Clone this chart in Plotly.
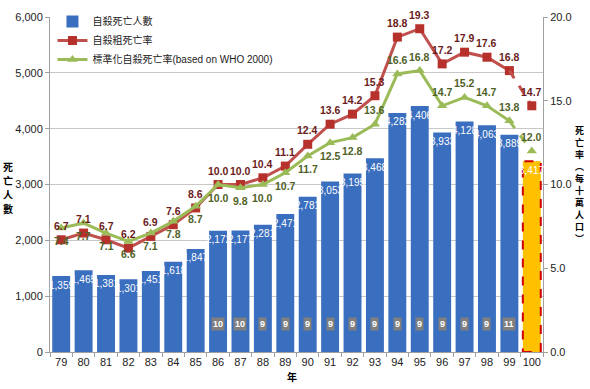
import plotly.graph_objects as go

years = ["79","80","81","82","83","84","85","86","87","88","89","90","91","92","93","94","95","96","97","98","99","100"]
deaths = [1359,1465,1381,1301,1451,1618,1847,2172,2177,2281,2471,2781,3053,3195,3468,4282,4406,3933,4128,4063,3889,3417]
crude = [6.7,7.1,6.7,6.2,6.9,7.6,8.6,10.0,10.0,10.4,11.1,12.4,13.6,14.2,15.3,18.8,19.3,17.2,17.9,17.6,16.8,14.7]
std = [7.4,7.7,7.1,6.6,7.1,7.8,8.7,10.0,9.8,10.0,10.7,11.7,12.5,12.8,13.6,16.6,16.8,14.7,15.2,14.7,13.8,12.0]
rank_years = ["86","87","88","89","90","91","92","93","94","95","96","97","98","99"]
ranks = [10,10,9,9,9,9,9,9,9,9,9,9,9,11]
left_title = "死亡人數"
right_title = "死亡率︵每十萬人口︶"

BLUE = "#3A6EBE"
ORANGE = "#FFC000"
RED = "#C0504D"
REDM = "#B7312C"
GREEN = "#9BBB59"
RED_TXT = "#6B1C1C"
GREEN_TXT = "#4F6228"
FONT = "Liberation Sans, Arial, sans-serif"
CJK = "Noto Sans CJK TC"

n = len(years)
idx = {y: i for i, y in enumerate(years)}
bar_colors = [BLUE] * (n - 1) + [ORANGE]

fig = go.Figure()
fig.add_trace(go.Bar(x=years, y=deaths, name="自殺死亡人數", marker=dict(color=bar_colors, line=dict(width=0)),
                     yaxis="y", legendrank=1))
fig.add_trace(go.Scatter(x=years[:-1], y=crude[:-1], name="自殺粗死亡率", mode="lines+markers",
                         line=dict(color=RED, width=3), marker=dict(symbol="square", size=9, color=REDM),
                         yaxis="y2", legendrank=2))
fig.add_trace(go.Scatter(x=years[-2:], y=crude[-2:], mode="lines", line=dict(color=RED, width=3, dash="dash"),
                         yaxis="y2", showlegend=False))
fig.add_trace(go.Scatter(x=years[-1:], y=crude[-1:], mode="markers", marker=dict(symbol="square", size=9, color=REDM),
                         yaxis="y2", showlegend=False))
fig.add_trace(go.Scatter(x=years[:-1], y=std[:-1], name="標準化自殺死亡率(based on WHO 2000)", mode="lines+markers",
                         line=dict(color=GREEN, width=3), marker=dict(symbol="triangle-up", size=9, color=GREEN),
                         yaxis="y2", legendrank=3))
fig.add_trace(go.Scatter(x=years[-2:], y=std[-2:], mode="lines", line=dict(color=GREEN, width=3, dash="dash"),
                         yaxis="y2", showlegend=False))
fig.add_trace(go.Scatter(x=years[-1:], y=std[-1:], mode="markers", marker=dict(symbol="triangle-up", size=9, color=GREEN),
                         yaxis="y2", showlegend=False))

ann = []
for yr, d in zip(years, deaths):
    ann.append(dict(x=idx[yr], y=d, xref="x", yref="y", text=f"{d:,}", showarrow=False, yshift=-9,
                    font=dict(family=FONT, size=10, color="white")))
for yr, v in zip(years, crude):
    ann.append(dict(x=idx[yr], y=v, xref="x", yref="y2", text=f"{v:.1f}", showarrow=False, yshift=14,
                    font=dict(family=FONT, size=10.5, color=RED_TXT, weight="bold")))
for yr, v in zip(years, std):
    above = int(yr) >= 93
    ann.append(dict(x=idx[yr], y=v, xref="x", yref="y2", text=f"{v:.1f}", showarrow=False,
                    yshift=14 if above else -13,
                    font=dict(family=FONT, size=10.5, color=GREEN_TXT, weight="bold")))
for yr, r in zip(rank_years, ranks):
    ann.append(dict(x=idx[yr], y=0.064, xref="x", yref="paper", text=f"<b>{r}</b>", showarrow=False,
                    bgcolor="#7F7F7F", borderpad=1, font=dict(family=FONT, size=9, color="white")))

m = len(left_title)
for k, ch in enumerate(left_title):
    ann.append(dict(x=-0.085, y=0.49, xref="paper", yref="paper", xanchor="center", yanchor="middle",
                    yshift=(m - 1) / 2 * 14 - k * 14, text=ch, showarrow=False,
                    font=dict(family=CJK, size=10, color="black", weight="bold")))
m = len(right_title)
for k, ch in enumerate(right_title):
    ann.append(dict(x=1.075, y=0.50, xref="paper", yref="paper", xanchor="center", yanchor="middle",
                    yshift=(m - 1) / 2 * 12 - k * 12, text=ch, showarrow=False,
                    font=dict(family=CJK, size=9, color="black", weight="bold")))
ann.append(dict(x=0.49, y=-0.072, xref="paper", yref="paper", text="年", showarrow=False,
                xanchor="center", yanchor="middle",
                font=dict(family=CJK, size=10, color="black", weight="bold")))

last = n - 1
fig.add_shape(type="rect", xref="x", yref="y", x0=last - 0.4, x1=last + 0.4, y0=0, y1=deaths[last],
              line=dict(color="#D00000", width=2, dash="dash"), fillcolor="rgba(0,0,0,0)")

fig.update_layout(
    width=590, height=389,
    margin=dict(l=50, r=47, t=7, b=37),
    paper_bgcolor="white", plot_bgcolor="white",
    bargap=0.2,
    font=dict(family=FONT, size=11, color="#222"),
    showlegend=True,
    legend=dict(x=0.005, y=1.03, xanchor="left", yanchor="top", bgcolor="rgba(255,255,255,0)",
                font=dict(family=FONT + ", " + CJK, size=10, color="#222"), tracegroupgap=0, itemwidth=30),
    xaxis=dict(type="category", range=[-0.5, n - 0.5], autorange=False, showline=True, linecolor="#A0A0A0",
               ticks="outside", tickson="boundaries", tickangle=0,
               ticklen=4, tickcolor="#A0A0A0", tickfont=dict(size=11, color="#222"), showgrid=False),
    yaxis=dict(range=[0, 6000], dtick=1000, tickformat=",", showgrid=True, gridcolor="#C8C8C8",
               showline=True, linecolor="#A0A0A0", ticks="outside", ticklen=4, tickcolor="#A0A0A0",
               tickfont=dict(size=11, color="#222"), zeroline=False),
    yaxis2=dict(range=[0, 20], dtick=5, tickformat=".1f", overlaying="y", side="right", showgrid=False,
                showline=True, linecolor="#A0A0A0", ticks="outside", ticklen=4, tickcolor="#A0A0A0",
                tickfont=dict(size=11, color="#222"), zeroline=False),
    annotations=ann,
)
fig.write_html("out.html", config={"displayModeBar": False},
               post_script="document.body.style.margin='0px';document.body.style.overflow='hidden';")
